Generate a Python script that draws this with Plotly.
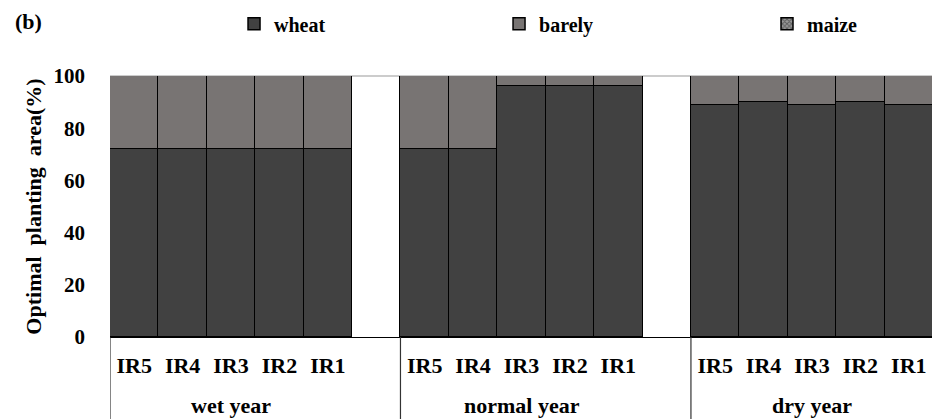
import plotly.graph_objects as go

years = ["wet year", "normal year", "dry year"]
treatments = ["IR5", "IR4", "IR3", "IR2", "IR1"]
wheat = {
    "wet year":    [72, 72, 72, 72, 72],
    "normal year": [72, 72, 96, 96, 96],
    "dry year":    [89, 90, 89, 90, 89],
}
barley = {
    "wet year":    [28, 28, 28, 28, 28],
    "normal year": [28, 28, 4, 4, 4],
    "dry year":    [11, 10, 11, 10, 11],
}
maize = {
    "wet year":    [0, 0, 0, 0, 0],
    "normal year": [0, 0, 0, 0, 0],
    "dry year":    [0, 0, 0, 0, 0],
}
y_ticks = [0, 20, 40, 60, 80, 100]

slot = len(treatments) + 1
xs, w_vals, b_vals, m_vals, tick_text = [], [], [], [], []
for gi, yr in enumerate(years):
    for ti, tr in enumerate(treatments):
        xs.append(gi * slot + ti)
        w_vals.append(wheat[yr][ti])
        b_vals.append(barley[yr][ti])
        m_vals.append(maize[yr][ti])
        tick_text.append("<b>" + tr + "</b>")

FAM = "Liberation Serif"
FONT = dict(family=FAM, color="black", size=22)
line = dict(color="black", width=1.5)

fig = go.Figure()
fig.add_bar(x=xs, y=w_vals, name="<b>wheat</b>", legend="legend",
            marker=dict(color="#414141", line=line))
fig.add_bar(x=xs, y=b_vals, name="<b>barely</b>", legend="legend2",
            marker=dict(color="#787473", line=line))
fig.add_bar(x=xs, y=m_vals, name="<b>maize</b>", legend="legend3",
            marker=dict(color="#ffffff", line=line,
                        pattern=dict(shape="x", fgcolor="#222222", bgcolor="#999999", size=4, solidity=0.5)))

n_slots = len(years) * slot - 1
shapes = []
bounds = [-0.5] + [gi * slot + len(treatments) + 0.5 for gi in range(len(years) - 1)] + [n_slots - 0.5]
for b in bounds:
    shapes.append(dict(type="line", xref="x", yref="paper", x0=b, x1=b, y0=0, y1=-0.32,
                       line=dict(color="#333333", width=1.2)))

annotations = []
for gi, yr in enumerate(years):
    annotations.append(dict(text="<b>" + yr + "</b>", xref="x", yref="paper",
                            x=gi * slot + (len(treatments) - 1) / 2, y=-0.264,
                            showarrow=False, font=FONT, yanchor="middle"))
annotations.append(dict(text="<b>(b)</b>", xref="paper", yref="paper", x=-0.118, y=1.207,
                        xanchor="left", yanchor="middle", showarrow=False,
                        font=dict(family=FAM, color="black", size=22)))

LEG_FONT = dict(family=FAM, size=20, color="black")
def leg(x):
    return dict(orientation="h", x=x, y=1.2, xanchor="left", yanchor="middle",
                font=LEG_FONT, itemwidth=30, bgcolor="rgba(0,0,0,0)", borderwidth=0)

# page has an 8px body margin, so the figure is 8px smaller and margins shifted
fig.update_layout(
    width=932, height=411,
    margin=dict(l=102, r=7, t=68, b=82, autoexpand=False),
    paper_bgcolor="white", plot_bgcolor="white",
    barmode="stack", bargap=0,
    font=FONT,
    showlegend=True,
    legend=leg(0.1507),
    legend2=leg(0.4727),
    legend3=leg(0.7983),
    xaxis=dict(range=[-0.5, n_slots - 0.5], tickmode="array", tickvals=xs, ticktext=tick_text,
               showgrid=False, zeroline=False, showline=True, linecolor="black", linewidth=1.2,
               ticks="", ticklabelstandoff=8, tickfont=FONT, automargin=False),
    yaxis=dict(range=[0, 100], tickmode="array", tickvals=y_ticks,
               ticktext=["<b>%d</b>" % v for v in y_ticks], showgrid=False, zeroline=False,
               showline=False, ticks="", ticklabelstandoff=24, tickfont=dict(FONT, size=21),
               automargin=False,
               title=dict(text="<b>Optimal  planting  area(%)</b>", standoff=5,
                          font=dict(family=FAM, size=22, color="black"))),
    shapes=shapes + [dict(type="line", xref="paper", yref="paper", x0=0, x1=1, y0=1, y1=1,
                          line=dict(color="#999999", width=1.2), layer="below")],
    annotations=annotations,
)

fig.write_html("out.html")
